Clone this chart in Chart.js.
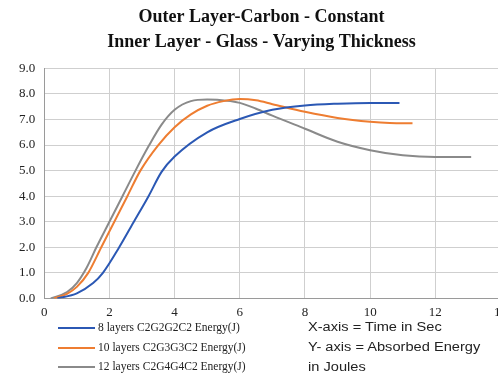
<!DOCTYPE html>
<html lang="en">
<head>
  <meta charset="UTF-8">
  <title>Absorbed Energy vs Time</title>
  <script src="https://cdn.jsdelivr.net/npm/chart.js"></script>
  <style>
    body {
      margin: 0;
      background: #ffffff;
      overflow: hidden;
      width: 498px;
      height: 385px;
      position: relative;
    }
    .wrap {
      position: absolute;
      left: 0;
      top: 0;
      width: 513px;
      height: 326px;
    }
    .legend {
      position: absolute;
      left: 58px;
      top: 318px;
      font-family: "Liberation Serif", "DejaVu Serif", serif;
      font-size: 11.5px;
      color: #222;
    }
    .legend div {
      height: 19.5px;
      line-height: 19.5px;
      white-space: nowrap;
    }
    .legend span.sw {
      display: inline-block;
      width: 37px;
      height: 0;
      border-top: 2px solid;
      vertical-align: middle;
      margin-right: 3px;
    }
    .note {
      position: absolute;
      left: 308px;
      top: 317px;
      font-family: "Liberation Sans", Arial, sans-serif;
      font-size: 12.5px;
      color: #222;
      line-height: 20px;
      white-space: nowrap;
      transform: scaleX(1.17);
      transform-origin: left top;
    }
  </style>
</head>
<body>
  <div class="wrap"><canvas id="energyChart"></canvas></div>
  <div class="legend" id="legend"></div>
  <div class="note">X-axis = Time in Sec<br>Y- axis = Absorbed Energy<br>in Joules</div>

  <script>
    // values (time in s, energy in J)
    const seriesNames = [
      '8 layers C2G2G2C2 Energy(J)',
      '10 layers C2G3G3C2 Energy(J)',
      '12 layers C2G4G4C2 Energy(J)'
    ];
    const colors = ['#2b58b4', '#ee7d31', '#8a8a8a'];

    const time8 = [0.4, 1, 1.5, 1.8, 2.3, 2.75, 3.2, 3.6, 4, 5, 6, 7, 8, 9, 10, 10.9];
    const energy8 = [0, 0.2, 0.6, 1.0, 2.0, 3.0, 4.0, 4.95, 5.55, 6.5, 7.02, 7.38, 7.55, 7.62, 7.65, 7.65];

    const time10 = [0.3, 0.7, 1, 1.35, 1.75, 2.15, 2.55, 2.95, 3.5, 4, 4.5, 5, 5.5, 6, 6.5, 7, 8, 9, 10, 10.6, 11.3];
    const energy10 = [0, 0.18, 0.45, 1.0, 2.0, 3.0, 4.0, 5.0, 6.0, 6.7, 7.2, 7.54, 7.72, 7.8, 7.75, 7.6, 7.3, 7.06, 6.91, 6.86, 6.85];

    const time12 = [0.2, 0.7, 1, 1.3, 1.6, 2.0, 2.4, 2.8, 3.2, 3.6, 4, 4.5, 5, 5.3, 6, 6.5, 7, 8, 9, 10, 11, 12, 13.1];
    const energy12 = [0, 0.25, 0.6, 1.2, 2.0, 3.0, 4.0, 5.0, 5.95, 6.8, 7.38, 7.72, 7.78, 7.77, 7.65, 7.42, 7.15, 6.64, 6.13, 5.8, 5.6, 5.53, 5.53];

    const titleLines = ['Outer Layer-Carbon - Constant', 'Inner Layer - Glass - Varying Thickness'];

    const toPoints = (xs, ys) => xs.map((x, i) => ({ x: x, y: ys[i] }));
    const allData = [toPoints(time8, energy8), toPoints(time10, energy10), toPoints(time12, energy12)];

    // legend on the bottom left
    document.getElementById('legend').innerHTML = seriesNames.map((n, i) =>
      `<div><span class="sw" style="border-color:${colors[i]}"></span>${n}</div>`).join('');

    const ctx = document.getElementById('energyChart').getContext('2d');

    new Chart(ctx, {
      type: 'line',
      data: {
        datasets: allData.map((d, i) => ({
          label: seriesNames[i],
          data: d,
          borderColor: colors[i],
          backgroundColor: colors[i],
          borderWidth: 2,
          pointRadius: 0,
          tension: 0.4,
          cubicInterpolationMode: 'monotone',
          fill: false
        }))
      },
      options: {
        responsive: true,
        maintainAspectRatio: false,
        animation: false,
        layout: { padding: { left: 10, right: 0, top: 0, bottom: 0 } },
        plugins: {
          legend: { display: false },
          tooltip: { enabled: false },
          title: {
            display: true,
            text: titleLines,
            color: '#111',
            font: { family: '"Liberation Serif", serif', size: 18, weight: 'bold', lineHeight: 1.4 },
            padding: { top: 5, bottom: 13 }
          }
        },
        scales: {
          x: {
            type: 'linear',
            min: 0,
            max: 14,
            ticks: {
              stepSize: 2,
              color: '#222',
              font: { family: '"Liberation Serif", serif', size: 13 },
              padding: 6
            },
            grid: { color: '#cfcfcf', lineWidth: 1, drawTicks: false },
            border: { color: '#9a9a9a' }
          },
          y: {
            min: 0,
            max: 9,
            ticks: {
              stepSize: 1,
              color: '#222',
              font: { family: '"Liberation Serif", serif', size: 13 },
              padding: 9,
              callback: v => v.toFixed(1)
            },
            grid: { color: '#cfcfcf', lineWidth: 1, drawTicks: false },
            border: { color: '#9a9a9a' }
          }
        }
      }
    });
  </script>
</body>
</html>
